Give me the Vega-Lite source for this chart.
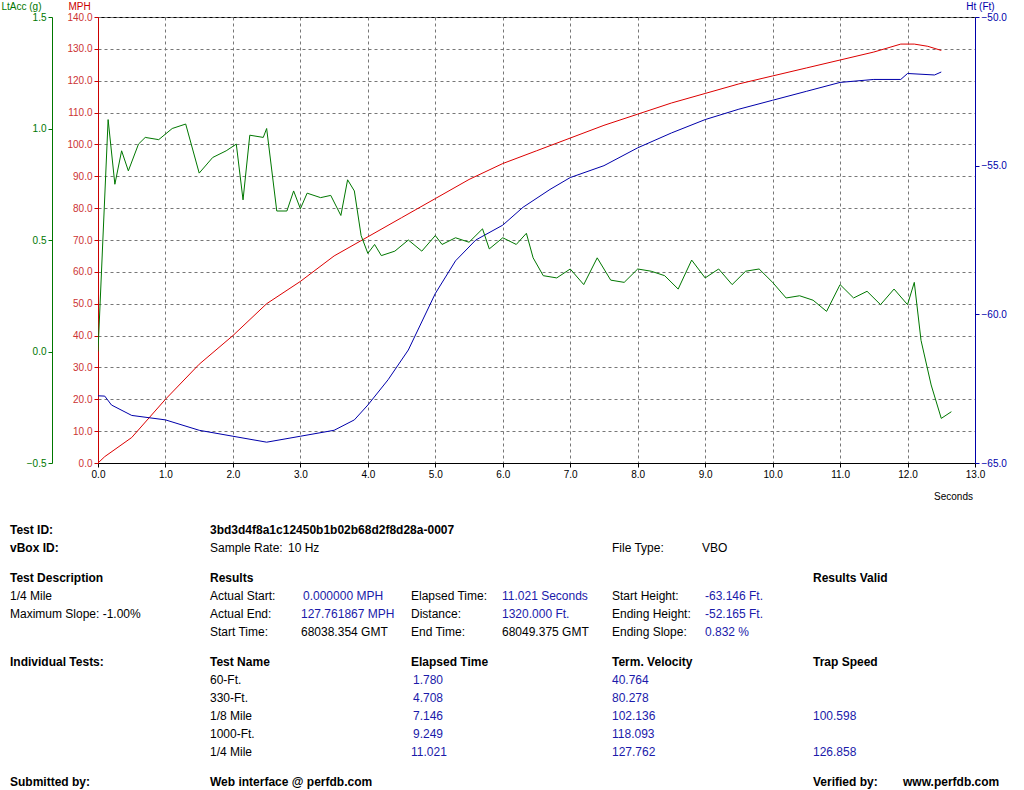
{
"$schema":"https://vega.github.io/schema/vega-lite/v6.json",
"width":877,"height":446,
"autosize":{"type":"none"},
"padding":{"left":98,"top":17,"right":49,"bottom":327},
"background":"white",
"config":{"view":{"stroke":"black","strokeWidth":1},"font":"Liberation Sans",
"axis":{"labelFontSize":10,"labelFont":"Liberation Sans","titleFont":"Liberation Sans","titleFontWeight":"normal","titleFontSize":10,"gridDash":[3,3],"gridColor":"#777","tickSize":4,"labelFlush":false}},
"datasets":{
"mph":[{"t":0,"v":0},{"t":0.1,"v":2},{"t":0.5,"v":8},{"t":1.0,"v":20},{"t":1.5,"v":31},{"t":2.0,"v":40},{"t":2.5,"v":50},{"t":3.0,"v":57},{"t":3.5,"v":65},{"t":4.0,"v":71},{"t":4.5,"v":77},{"t":5.0,"v":83},{"t":5.5,"v":89},{"t":6.0,"v":94},{"t":6.5,"v":98},{"t":7.0,"v":102},{"t":7.5,"v":106},{"t":8.0,"v":109.5},{"t":8.5,"v":113},{"t":9.0,"v":116},{"t":9.5,"v":119},{"t":10.0,"v":121.5},{"t":10.5,"v":124},{"t":11.0,"v":126.5},{"t":11.5,"v":129},{"t":11.9,"v":131.5},{"t":12.1,"v":131.5},{"t":12.3,"v":130.8},{"t":12.5,"v":129.5}],
"ht":[{"t":0,"v":-62.74},{"t":0.1,"v":-62.75},{"t":0.2,"v":-63.05},{"t":0.5,"v":-63.4},{"t":1.0,"v":-63.55},{"t":1.5,"v":-63.9},{"t":2.0,"v":-64.1},{"t":2.5,"v":-64.3},{"t":3.0,"v":-64.1},{"t":3.5,"v":-63.9},{"t":3.8,"v":-63.55},{"t":4.0,"v":-63.05},{"t":4.3,"v":-62.2},{"t":4.6,"v":-61.2},{"t":5.0,"v":-59.3},{"t":5.3,"v":-58.2},{"t":5.6,"v":-57.5},{"t":6.0,"v":-57.0},{"t":6.3,"v":-56.4},{"t":6.7,"v":-55.8},{"t":7.0,"v":-55.4},{"t":7.5,"v":-55.0},{"t":8.0,"v":-54.4},{"t":8.5,"v":-53.9},{"t":9.0,"v":-53.45},{"t":9.5,"v":-53.1},{"t":10.0,"v":-52.8},{"t":10.5,"v":-52.5},{"t":11.0,"v":-52.2},{"t":11.5,"v":-52.1},{"t":11.9,"v":-52.1},{"t":12.0,"v":-51.9},{"t":12.4,"v":-51.95},{"t":12.5,"v":-51.85}],
"acc":[{"t":0,"v":0.0},{"t":0.15,"v":1.04},{"t":0.25,"v":0.75},{"t":0.35,"v":0.9},{"t":0.45,"v":0.81},{"t":0.6,"v":0.93},{"t":0.7,"v":0.96},{"t":0.9,"v":0.95},{"t":1.1,"v":1.0},{"t":1.3,"v":1.02},{"t":1.5,"v":0.8},{"t":1.7,"v":0.87},{"t":1.9,"v":0.9},{"t":2.05,"v":0.93},{"t":2.15,"v":0.68},{"t":2.25,"v":0.97},{"t":2.45,"v":0.96},{"t":2.5,"v":1.0},{"t":2.65,"v":0.63},{"t":2.8,"v":0.63},{"t":2.9,"v":0.72},{"t":3.0,"v":0.64},{"t":3.1,"v":0.71},{"t":3.3,"v":0.69},{"t":3.45,"v":0.7},{"t":3.6,"v":0.61},{"t":3.7,"v":0.77},{"t":3.8,"v":0.72},{"t":3.9,"v":0.52},{"t":4.0,"v":0.44},{"t":4.1,"v":0.48},{"t":4.2,"v":0.43},{"t":4.4,"v":0.45},{"t":4.6,"v":0.5},{"t":4.8,"v":0.45},{"t":5.0,"v":0.52},{"t":5.1,"v":0.48},{"t":5.3,"v":0.51},{"t":5.5,"v":0.49},{"t":5.7,"v":0.55},{"t":5.8,"v":0.46},{"t":6.0,"v":0.51},{"t":6.2,"v":0.48},{"t":6.35,"v":0.53},{"t":6.45,"v":0.42},{"t":6.6,"v":0.34},{"t":6.8,"v":0.33},{"t":7.0,"v":0.37},{"t":7.2,"v":0.3},{"t":7.4,"v":0.42},{"t":7.6,"v":0.32},{"t":7.8,"v":0.31},{"t":8.0,"v":0.37},{"t":8.2,"v":0.36},{"t":8.4,"v":0.34},{"t":8.6,"v":0.28},{"t":8.8,"v":0.41},{"t":9.0,"v":0.33},{"t":9.2,"v":0.37},{"t":9.4,"v":0.3},{"t":9.6,"v":0.36},{"t":9.8,"v":0.37},{"t":10.0,"v":0.31},{"t":10.2,"v":0.24},{"t":10.4,"v":0.25},{"t":10.6,"v":0.23},{"t":10.8,"v":0.18},{"t":11.0,"v":0.3},{"t":11.2,"v":0.24},{"t":11.4,"v":0.27},{"t":11.6,"v":0.21},{"t":11.8,"v":0.28},{"t":12.0,"v":0.21},{"t":12.1,"v":0.31},{"t":12.2,"v":0.05},{"t":12.35,"v":-0.15},{"t":12.5,"v":-0.3},{"t":12.65,"v":-0.27}],
"txt":[
{"c":0,"r":0,"k":"bold","s":"Test ID:"},{"c":1,"r":0,"k":"bold","s":"3bd3d4f8a1c12450b1b02b68d2f8d28a-0007"},
{"c":0,"r":1,"k":"bold","s":"vBox ID:"},{"c":1,"r":1,"k":"label","s":"Sample Rate:"},{"c":2,"r":1,"k":"label","s":"10 Hz"},{"c":8,"r":1,"k":"label","s":"File Type:"},{"c":9,"r":1,"k":"label","s":"VBO"},
{"c":0,"r":2,"k":"bold","s":"Test Description"},{"c":1,"r":2,"k":"bold","s":"Results"},{"c":11,"r":2,"k":"bold","s":"Results Valid"},
{"c":0,"r":3,"k":"label","s":"1/4 Mile"},{"c":1,"r":3,"k":"label","s":"Actual Start:"},{"c":4,"r":3,"k":"value","s":"0.000000 MPH"},{"c":5,"r":3,"k":"label","s":"Elapsed Time:"},{"c":6,"r":3,"k":"value","s":"11.021 Seconds"},{"c":8,"r":3,"k":"label","s":"Start Height:"},{"c":10,"r":3,"k":"value","s":"-63.146 Ft."},
{"c":0,"r":4,"k":"label","s":"Maximum Slope:  -1.00%"},{"c":1,"r":4,"k":"label","s":"Actual End:"},{"c":3,"r":4,"k":"value","s":"127.761867 MPH"},{"c":5,"r":4,"k":"label","s":"Distance:"},{"c":6,"r":4,"k":"value","s":"1320.000 Ft."},{"c":8,"r":4,"k":"label","s":"Ending Height:"},{"c":10,"r":4,"k":"value","s":"-52.165 Ft."},
{"c":1,"r":5,"k":"label","s":"Start Time:"},{"c":3,"r":5,"k":"label","s":"68038.354 GMT"},{"c":5,"r":5,"k":"label","s":"End Time:"},{"c":6,"r":5,"k":"label","s":"68049.375 GMT"},{"c":8,"r":5,"k":"label","s":"Ending Slope:"},{"c":10,"r":5,"k":"value","s":"0.832 %"},
{"c":0,"r":6,"k":"bold","s":"Individual Tests:"},{"c":1,"r":6,"k":"bold","s":"Test Name"},{"c":5,"r":6,"k":"bold","s":"Elapsed Time"},{"c":8,"r":6,"k":"bold","s":"Term. Velocity"},{"c":11,"r":6,"k":"bold","s":"Trap Speed"},
{"c":1,"r":7,"k":"label","s":"60-Ft."},{"c":7,"r":7,"k":"value","s":"1.780"},{"c":8,"r":7,"k":"value","s":"40.764"},
{"c":1,"r":8,"k":"label","s":"330-Ft."},{"c":7,"r":8,"k":"value","s":"4.708"},{"c":8,"r":8,"k":"value","s":"80.278"},
{"c":1,"r":9,"k":"label","s":"1/8 Mile"},{"c":7,"r":9,"k":"value","s":"7.146"},{"c":8,"r":9,"k":"value","s":"102.136"},{"c":11,"r":9,"k":"value","s":"100.598"},
{"c":1,"r":10,"k":"label","s":"1000-Ft."},{"c":7,"r":10,"k":"value","s":"9.249"},{"c":8,"r":10,"k":"value","s":"118.093"},
{"c":1,"r":11,"k":"label","s":"1/4 Mile"},{"c":5,"r":11,"k":"value","s":"11.021"},{"c":8,"r":11,"k":"value","s":"127.762"},{"c":11,"r":11,"k":"value","s":"126.858"},
{"c":0,"r":12,"k":"bold","s":"Submitted by:"},{"c":1,"r":12,"k":"bold","s":"Web interface @ perfdb.com"},{"c":11,"r":12,"k":"bold","s":"Verified by:"},{"c":12,"r":12,"k":"bold","s":"www.perfdb.com"}
]},
"layer":[
{"data":{"name":"mph"},"mark":{"type":"line","color":"#dd0000","strokeWidth":1,"clip":true},
"encoding":{"x":{"field":"t","type":"quantitative","scale":{"domain":[0,13],"nice":false},
"axis":{"values":[0,1,2,3,4,5,6,7,8,9,10,11,12,13],"format":".1f","title":"Seconds","titleX":855,"titleY":28,"titleAlign":"center","domainColor":"black","tickColor":"black","labelColor":"black","titleColor":"black","gridDash":[3,3]}},
"y":{"field":"v","type":"quantitative","scale":{"domain":[0,140],"nice":false},
"axis":{"values":[0,10,20,30,40,50,60,70,80,90,100,110,120,130,140],"format":".1f","title":"MPH","titleAngle":0,"titleX":-19,"titleY":-6,"titleBaseline":"bottom","titleAlign":"center","titleColor":"#cc0000","labelColor":"#cc3333","domainColor":"#cc0000","tickColor":"#cc0000"}}}},
{"data":{"name":"ht"},"mark":{"type":"line","color":"#0000aa","strokeWidth":1,"clip":true},
"encoding":{"x":{"field":"t","type":"quantitative","scale":{"domain":[0,13],"nice":false},"axis":null},
"y":{"field":"v","type":"quantitative","scale":{"domain":[-65,-50],"nice":false},
"axis":{"orient":"right","values":[-65,-60,-55,-50],"format":".1f","grid":false,"title":"Ht (Ft)","titleAngle":0,"titleX":5,"titleY":-6,"titleBaseline":"bottom","titleAlign":"center","titleColor":"#0000aa","labelColor":"#0000aa","domainColor":"#0000aa","tickColor":"#0000aa"}}}},
{"data":{"name":"acc"},"mark":{"type":"line","color":"#007700","strokeWidth":1,"clip":true},
"encoding":{"x":{"field":"t","type":"quantitative","scale":{"domain":[0,13],"nice":false},"axis":null},
"y":{"field":"v","type":"quantitative","scale":{"domain":[-0.5,1.5],"nice":false},
"axis":{"orient":"left","offset":46,"values":[-0.5,0,0.5,1,1.5],"format":".1f","grid":false,"title":"LtAcc (g)","titleAngle":0,"titleX":-31,"titleY":-6,"titleBaseline":"bottom","titleAlign":"center","titleColor":"#007700","labelColor":"#007700","domainColor":"#007700","tickColor":"#007700"}}}},
{"data":{"name":"txt"},"transform":[{"filter":"datum.k!=='bold'"}],"mark":{"type":"text","align":"left","baseline":"middle","fontSize":12,"font":"Liberation Sans"},
"encoding":{"x":{"field":"c","type":"quantitative","axis":null,"scale":{"type":"linear","domain":[0,1,2,3,4,5,6,7,8,9,10,11,12],"range":[-88,112,190,203,205,313,404,315,514,604,607,715,805]}},
"y":{"field":"r","type":"quantitative","axis":null,"scale":{"type":"linear","domain":[0,1,2,3,4,5,6,7,8,9,10,11,12],"range":[513,531,561,579,597,615,645,663,681,699,717,735,765]}},
"text":{"field":"s"},
"color":{"condition":{"test":"datum.k==='value'","value":"#1a1aaa"},"value":"black"}}},
{"data":{"name":"txt"},"transform":[{"filter":"datum.k==='bold'"}],"mark":{"type":"text","align":"left","baseline":"middle","fontSize":12,"fontWeight":"bold","font":"Liberation Sans","color":"black"},
"encoding":{"x":{"field":"c","type":"quantitative","axis":null,"scale":{"type":"linear","domain":[0,1,2,3,4,5,6,7,8,9,10,11,12],"range":[-88,112,190,203,205,313,404,315,514,604,607,715,805]}},
"y":{"field":"r","type":"quantitative","axis":null,"scale":{"type":"linear","domain":[0,1,2,3,4,5,6,7,8,9,10,11,12],"range":[513,531,561,579,597,615,645,663,681,699,717,735,765]}},
"text":{"field":"s"}}}
],
"resolve":{"scale":{"x":"independent","y":"independent","color":"independent"}}
}
